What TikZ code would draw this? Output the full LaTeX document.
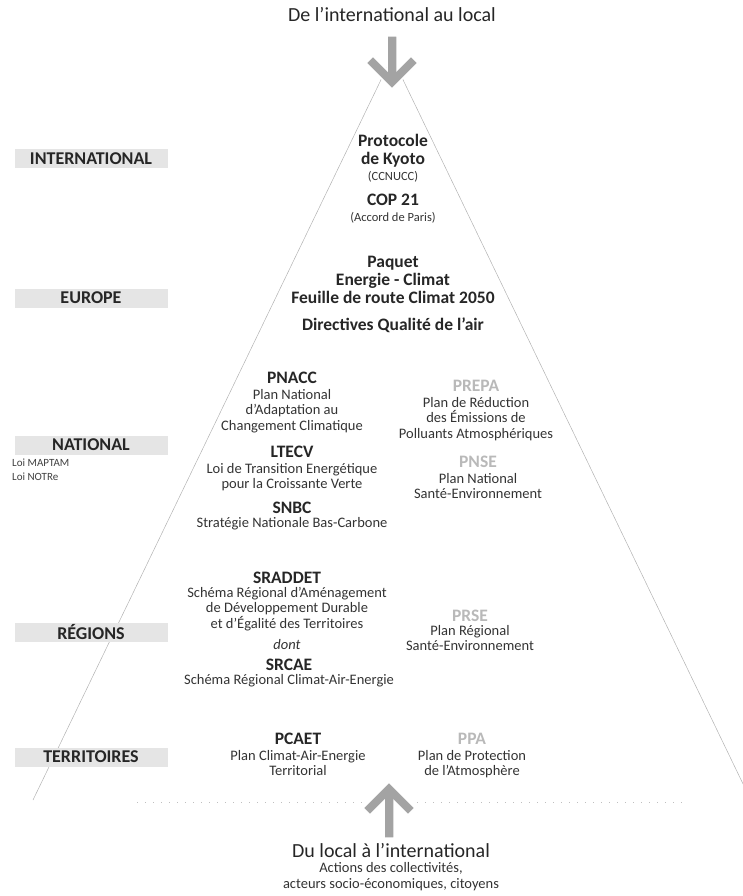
\documentclass[tikz,border=0pt]{standalone}
\usepackage{fontspec}
\setmainfont{Carlito}
\usetikzlibrary{positioning}

\begin{document}
\begin{tikzpicture}[x=1pt, y=-1pt,
  node distance=5pt,
  level/.style={fill=gray!20, minimum width=153pt, minimum height=19pt,
                inner sep=0pt, text=black!85,
                font=\fontsize{18}{20}\selectfont\bfseries},
  head/.style={align=center, inner sep=0pt, text=black!85,
               font=\fontsize{17.5}{18}\selectfont\bfseries},
  headgrey/.style={head, text=gray!55},
  desc/.style={align=center, inner sep=0pt, text=black!80,
               font=\fontsize{14.5}{15.5}\selectfont},
  descsmall/.style={desc, font=\fontsize{12.5}{14}\selectfont},
  banner/.style={align=center, inner sep=0pt, text=black!85,
                 font=\fontsize{20}{22}\selectfont},
  note/.style={anchor=west, inner sep=0pt, text=black!75,
               font=\fontsize{11}{13}\selectfont},
  side/.style={draw=gray!60, line width=0.5pt},
  bigarrow/.style={fill=gray!72, draw=white, line width=1.5pt, line join=miter}
]
\useasboundingbox (0,0) rectangle (743,896);

% ==================== PYRAMID ====================
\coordinate (apex) at (392,57);
\coordinate (baseL) at (33,800);
\coordinate (baseR) at (745,788);
\draw[side] (apex) -- (baseL);
\draw[side] (apex) -- (baseR);

\coordinate (dotsL) at (137,802);
\coordinate (dotsR) at (682,802);
\draw[gray!50, line width=0.6pt, dash pattern=on 1pt off 7pt] (dotsL) -- (dotsR);

% ==================== TOP ====================
\node[banner] (topttl) at (392,15) {De l'international au local};
\path[bigarrow] (387,36) -- (397,36) -- (397,70) -- (411,56) -- (418,63)
  -- (392,89) -- (366,63) -- (373,56) -- (387,70) -- cycle;

% ==================== LEVELS ====================
\node[level] (intl)   at (91,159) {INTERNATIONAL};
\node[level] (europe) at (91,298) {EUROPE};
\node[level] (natl)   at (91,445) {NATIONAL};
\node[level] (reg)    at (91,632) {RÉGIONS};
\node[level] (terr)   at (91,757) {TERRITOIRES};

\node[note] (maptam) at (12,463) {Loi MAPTAM};
\node[note] (notre)  at (12,477) {Loi NOTRe};

% ==================== INTERNATIONAL / EUROPE ====================
\node[head] (kyoto) at (393,151) {Protocole\\de Kyoto};
\node[descsmall] (ccnucc) at (393,177) {(CCNUCC)};
\node[head] (cop) at (393,200) {COP 21};
\node[descsmall] (paris) at (393,218) {(Accord de Paris)};

\node[head] (paquet) at (393,280) {Paquet\\Energie - Climat\\Feuille de route Climat 2050};
\node[head] (dirair) at (393,325) {Directives Qualité de l'air};

% ==================== NATIONAL ====================
\node[head] (pnacc) at (292,378) {PNACC};
\node[desc, below=of pnacc] (pnaccd) {Plan National\\d'Adaptation au\\Changement Climatique};
\node[head] (ltecv) at (292,452) {LTECV};
\node[desc, below=of ltecv] (ltecvd) {Loi de Transition Energétique\\pour la Croissante Verte};
\node[head] (snbc) at (292,508) {SNBC};
\node[desc, below=3pt of snbc] (snbcd) {Stratégie Nationale Bas-Carbone};

\node[headgrey] (prepa) at (476,386) {PREPA};
\node[desc, below=of prepa] (prepad) {Plan de Réduction\\des Émissions de\\Polluants Atmosphériques};
\node[headgrey] (pnse) at (478,462) {PNSE};
\node[desc, below=of pnse] (pnsed) {Plan National\\Santé-Environnement};

% ==================== REGIONS ====================
\node[head] (sraddet) at (287,578) {SRADDET};
\node[desc, below=3pt of sraddet] (sraddetd) {Schéma Régional d'Aménagement\\de Développement Durable\\et d'Égalité des Territoires};
\node[desc, font=\fontsize{14.5}{15.5}\selectfont\itshape] (dont) at (287,645) {dont};
\node[head] (srcae) at (289,665) {SRCAE};
\node[desc, below=3pt of srcae] (srcaed) {Schéma Régional Climat-Air-Energie};

\node[headgrey] (prse) at (470,616) {PRSE};
\node[desc, below=3pt of prse] (prsed) {Plan Régional\\Santé-Environnement};

% ==================== TERRITOIRES ====================
\node[head] (pcaet) at (298,739) {PCAET};
\node[desc, below=of pcaet] (pcaetd) {Plan Climat-Air-Energie\\Territorial};
\node[headgrey] (ppa) at (472,739) {PPA};
\node[desc, below=of ppa] (ppad) {Plan de Protection\\de l'Atmosphère};

% ==================== BOTTOM ====================
\path[bigarrow] (384,838) -- (394,838) -- (394,801) -- (408,815) -- (415,808)
  -- (389,782) -- (363,808) -- (370,815) -- (384,801) -- cycle;
\node[banner] (dulocal) at (391,851) {Du local à l'international};
\node[desc, below=4pt of dulocal] (acteurs) {Actions des collectivités,\\acteurs socio-économiques, citoyens};

\end{tikzpicture}
\end{document}
